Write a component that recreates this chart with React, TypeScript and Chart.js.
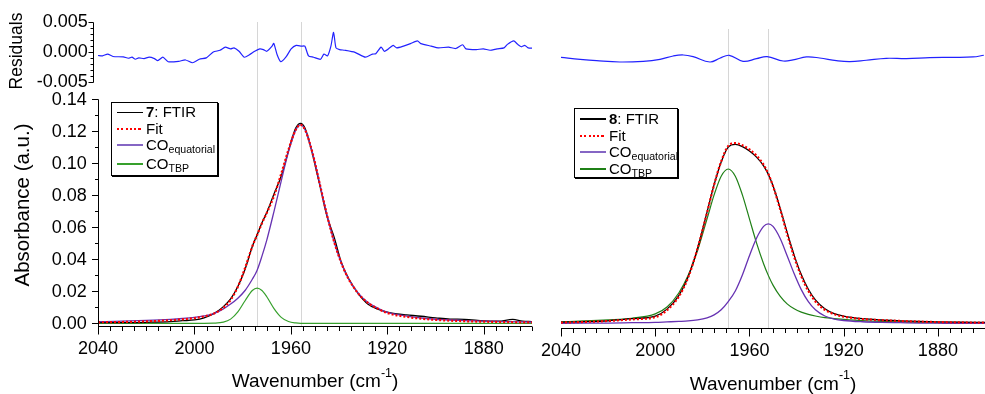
import React, { useEffect, useRef } from 'react';
import { Chart, registerables } from 'chart.js';

Chart.register(...registerables);

const FONT = "'Liberation Sans', Arial, Helvetica, sans-serif";
Chart.defaults.font.family = FONT;

// Shared axes (wavenumber in cm-1, plotted high to low)
const X_MIN = 1860;
const X_MAX = 2040;
const X_LABELS = [2040, 2000, 1960, 1920, 1880];
const ABS_LABELS = [0, 0.02, 0.04, 0.06, 0.08, 0.1, 0.12, 0.14];
const RES_LABELS = [-0.005, 0, 0.005];

// ---- Compound 7 ----
const WN_7 = [2040, 2030, 2020, 2010, 2005, 2000, 1996, 1992, 1988, 1985, 1982, 1979, 1976, 1974, 1972, 1970, 1967, 1964, 1961, 1958, 1956, 1954, 1951, 1948, 1945, 1942, 1939, 1936, 1932, 1928, 1924, 1920, 1912, 1904, 1896, 1888, 1880, 1870, 1860];
const FIT_7 = [0.0006, 0.0008, 0.0012, 0.0019, 0.0025, 0.0032, 0.0043, 0.006, 0.0097, 0.0146, 0.0228, 0.0346, 0.048, 0.0552, 0.0625, 0.069, 0.0795, 0.0935, 0.1085, 0.1209, 0.124, 0.1205, 0.1063, 0.087, 0.0675, 0.0506, 0.0373, 0.0275, 0.0185, 0.0127, 0.0092, 0.0064, 0.004, 0.0026, 0.0018, 0.0013, 0.001, 0.0007, 0.0005];
const CO_EQ_7 = [0.001, 0.0013, 0.0018, 0.0025, 0.003, 0.0037, 0.0046, 0.006, 0.009, 0.012, 0.0157, 0.0205, 0.0275, 0.0332, 0.042, 0.052, 0.07, 0.089, 0.1072, 0.1207, 0.124, 0.1205, 0.1063, 0.087, 0.0675, 0.0506, 0.0373, 0.0275, 0.0187, 0.013, 0.0095, 0.0068, 0.0045, 0.003, 0.0022, 0.0017, 0.0013, 0.001, 0.0008];
const CO_TBP_7 = [0, 0, 0, 0, 0, 0, 0, 0.0001, 0.0007, 0.0026, 0.0071, 0.0141, 0.0205, 0.022, 0.0205, 0.0166, 0.0092, 0.0037, 0.0011, 0.0002, 0, 0, 0, 0, 0, 0, 0, 0, 0, 0, 0, 0, 0, 0, 0, 0, 0, 0, 0];
const FTIR_WN_7 = [2040, 2030, 2020, 2010, 2005, 2000, 1996, 1992, 1988, 1985, 1982, 1979, 1976, 1974, 1972, 1970, 1967, 1964, 1961, 1958, 1956, 1954, 1951, 1948, 1945, 1942, 1939, 1936, 1932, 1928, 1924, 1920, 1916, 1912, 1906, 1900, 1894, 1888, 1880, 1874, 1868, 1864, 1860];
const FTIR_7 = [0.0004, 0.0004, 0.0006, 0.001, 0.0016, 0.0021, 0.0034, 0.006, 0.0104, 0.0152, 0.023, 0.0338, 0.048, 0.0553, 0.0629, 0.0692, 0.0808, 0.092, 0.1078, 0.122, 0.125, 0.1215, 0.1055, 0.0862, 0.0668, 0.0535, 0.0377, 0.0278, 0.0184, 0.0119, 0.0089, 0.007, 0.0058, 0.0052, 0.0044, 0.0034, 0.0026, 0.0025, 0.0015, 0.0013, 0.0024, 0.0014, 0.001];
const RES_WN_7 = [2040.0, 2038.1, 2036.0, 2033.8, 2029.5, 2027.4, 2025.9, 2024.5, 2023.1, 2020.9, 2018.8, 2016.6, 2015.2, 2013.1, 2010.9, 2006.6, 2003.7, 2000.8, 1998.0, 1995.1, 1992.2, 1989.4, 1987.2, 1985.0, 1983.6, 1981.5, 1979.3, 1977.2, 1975.0, 1972.9, 1971.4, 1970.0, 1967.8, 1967.1, 1965.7, 1964.2, 1962.1, 1959.9, 1957.8, 1955.6, 1954.2, 1952.7, 1950.6, 1947.7, 1946.3, 1944.8, 1943.4, 1942.3, 1941.3, 1939.8, 1937.7, 1933.4, 1929.1, 1926.2, 1924.8, 1922.6, 1921.2, 1919.0, 1917.6, 1916.1, 1913.3, 1910.4, 1907.5, 1906.1, 1901.8, 1898.9, 1894.6, 1891.7, 1888.8, 1887.4, 1883.1, 1880.2, 1877.4, 1874.5, 1871.6, 1870.2, 1867.6, 1865.9, 1864.4, 1863.0, 1861.6, 1859.4];
const RES_7 = [-0.00058, -0.00064, -0.00035, -0.00075, -0.00081, -0.00104, -0.00087, -0.00121, -0.00098, -0.0011, -0.00087, -0.0011, -0.00145, -0.00087, -0.00162, -0.00156, -0.00133, -0.00179, -0.00121, -0.00098, 0.0, 0.00029, 0.00081, 0.00052, 0.00069, 0.00012, -0.00087, -0.00046, 0.00012, 0.00052, 0.0004, 0.00012, 0.00098, 0.00145, -0.00046, -0.00162, -0.00087, 0.00052, 0.0011, 0.00098, 0.00098, -0.00064, -0.00087, -0.00121, -0.00035, -0.00064, 0.00098, 0.00329, 0.00069, 0.0004, 0.00029, -0.00006, -0.00087, -0.00035, -0.00029, 0.00081, 0.00012, 0.00069, 0.0011, 0.00069, 0.00098, 0.00139, 0.00185, 0.00139, 0.00098, 0.00069, 0.00081, 0.00058, 0.00121, 0.00052, 0.0004, 0.00052, 0.00029, 0.00052, 0.00069, 0.00127, 0.00185, 0.00127, 0.00087, 0.0011, 0.00069, 0.00064];
const BANDS_7 = [1974, 1956];

// ---- Compound 8 ----
const WN_8 = [2040, 2030, 2020, 2010, 2000, 1995, 1990, 1986, 1982, 1978, 1975, 1972, 1969, 1966, 1963, 1960, 1957, 1954, 1952, 1950, 1947, 1944, 1941, 1938, 1935, 1932, 1928, 1924, 1920, 1912, 1904, 1896, 1888, 1880, 1870, 1860];
const FIT_8 = [0.0018, 0.0022, 0.0028, 0.0038, 0.0052, 0.0095, 0.018, 0.03, 0.0483, 0.0705, 0.088, 0.1025, 0.1122, 0.114, 0.1126, 0.11, 0.1061, 0.1005, 0.0948, 0.0871, 0.0728, 0.0571, 0.0427, 0.0307, 0.0215, 0.015, 0.0098, 0.007, 0.0055, 0.004, 0.0033, 0.0028, 0.0024, 0.0021, 0.0019, 0.0017];
const CO_EQ_8 = [0.0013, 0.0014, 0.0015, 0.0017, 0.0019, 0.0022, 0.0025, 0.0028, 0.0035, 0.0048, 0.0066, 0.0098, 0.0149, 0.0215, 0.0315, 0.0436, 0.0545, 0.0619, 0.0635, 0.0619, 0.0545, 0.0436, 0.0323, 0.0224, 0.0149, 0.0098, 0.0059, 0.004, 0.0031, 0.0023, 0.0019, 0.0017, 0.0015, 0.0014, 0.0013, 0.0013];
const CO_TBP_8 = [0.0023, 0.0028, 0.0035, 0.0045, 0.0072, 0.0115, 0.0203, 0.0313, 0.047, 0.0666, 0.0816, 0.0933, 0.0978, 0.0933, 0.0816, 0.0666, 0.0516, 0.0386, 0.0313, 0.0252, 0.0183, 0.0135, 0.0104, 0.0083, 0.0069, 0.0059, 0.0049, 0.0043, 0.0038, 0.003, 0.0025, 0.0022, 0.0019, 0.0017, 0.0016, 0.0014];
const FTIR_8 = [0.002, 0.0023, 0.0029, 0.0042, 0.0058, 0.0102, 0.0186, 0.0305, 0.0483, 0.0708, 0.088, 0.1022, 0.1115, 0.1132, 0.1118, 0.109, 0.1052, 0.0998, 0.0945, 0.0873, 0.0735, 0.0582, 0.0438, 0.0318, 0.0226, 0.016, 0.0104, 0.0074, 0.0058, 0.0042, 0.0034, 0.0029, 0.0025, 0.0022, 0.002, 0.0019];
const RES_WN_8 = [2040.0, 2031.9, 2024.9, 2015.0, 2005.1, 1998.0, 1992.4, 1988.1, 1983.9, 1976.8, 1972.6, 1968.6, 1962.7, 1957.0, 1952.5, 1945.7, 1941.5, 1935.8, 1930.2, 1923.1, 1917.4, 1910.4, 1901.9, 1893.4, 1883.5, 1875.0, 1865.1, 1860.5];
const RES_8 = [-0.00084, -0.00117, -0.0014, -0.00162, -0.0015, -0.00117, -0.00062, -0.00045, -0.00073, -0.00162, -0.001, -0.0005, -0.0015, -0.00107, -0.00073, -0.00145, -0.00128, -0.00078, -0.00095, -0.0014, -0.00157, -0.00133, -0.001, -0.00107, -0.0009, -0.00084, -0.00078, -0.0005];
const BANDS_8 = [1969, 1952];

const RED = '#ff0000';
const PURPLE = '#6632b2';
const BLUE = '#2222ff';

type Geometry = {
  canvasLeft: number;
  canvasWidth: number;
  padLeft: number;
  padTop: number;
  padRight: number;
  axisHeight: number;
  absRange: [number, number];
  resRange: [number, number];
  showY: boolean;
};

type Series = {
  wn: number[];
  fit: number[];
  coEq: number[];
  coTbp: number[];
  ftirWn: number[];
  ftir: number[];
  resWn: number[];
  res: number[];
  bands: number[];
  green: string;
  resTension: number;
};

const pts = (xs: number[], ys: number[]) => xs.map((x, i) => ({ x, y: ys[i] }));

// Axis lines with major/minor tick marks and y labels, plus the grey band-centre guides.
function makeFramePlugin(bands: number[], showY: boolean) {
  const seg = (ctx: CanvasRenderingContext2D, x1: number, y1: number, x2: number, y2: number) => {
    ctx.beginPath();
    ctx.moveTo(x1, y1);
    ctx.lineTo(x2, y2);
    ctx.stroke();
  };
  return {
    id: 'spectrumFrame',
    beforeDatasetsDraw(chart: any) {
      const { ctx, chartArea: a, scales } = chart;
      ctx.save();
      ctx.strokeStyle = '#d6d6d6';
      ctx.lineWidth = 1;
      for (const b of bands) {
        const px = Math.round(scales.x.getPixelForValue(b)) + 0.5;
        seg(ctx, px, a.top, px, a.bottom);
      }
      ctx.restore();
    },
    afterDraw(chart: any) {
      const { ctx, chartArea: a, scales } = chart;
      ctx.save();
      ctx.strokeStyle = '#000';
      ctx.fillStyle = '#000';
      ctx.lineWidth = 1;
      const yb = Math.round(a.bottom) + 0.5;
      const xl = Math.round(a.left) + 0.5;
      seg(ctx, xl - 0.5, yb, a.right, yb);
      for (let v = X_MIN; v <= X_MAX; v += 5) {
        const px = Math.round(scales.x.getPixelForValue(v)) + 0.5;
        const major = X_LABELS.includes(v) || v === X_MAX;
        seg(ctx, px, yb, px, yb + (major ? 8 : 4.5));
      }
      if (showY) {
        ctx.font = `18px ${FONT}`;
        ctx.textAlign = 'right';
        ctx.textBaseline = 'middle';
        const ya = scales.yAbs;
        const topA = Math.round(ya.getPixelForValue(0.14)) + 0.5;
        seg(ctx, xl, topA, xl, yb);
        for (let k = 0; k <= 14; k++) {
          const py = Math.round(ya.getPixelForValue(k / 100)) + 0.5;
          seg(ctx, xl, py, xl - (k % 2 === 0 ? 6.5 : 3.5), py);
        }
        for (const v of ABS_LABELS) {
          ctx.fillText(v.toFixed(2), xl - 11.8, ya.getPixelForValue(v) + 0.5);
        }
        const yr = scales.yRes;
        const xr = xl - 5;
        const t = Math.round(yr.getPixelForValue(0.005)) + 0.5;
        const b = Math.round(yr.getPixelForValue(-0.005)) + 0.5;
        seg(ctx, xr, t, xr, b);
        for (let k = -5; k <= 5; k++) {
          const py = Math.round(yr.getPixelForValue(k / 1000)) + 0.5;
          seg(ctx, xr, py, xr - (k % 5 === 0 ? 5 : 3), py);
        }
        for (const v of RES_LABELS) {
          ctx.fillText(v.toFixed(3), xr - 5.8, yr.getPixelForValue(v) + 0.5);
        }
      }
      ctx.restore();
    },
  };
}

function Panel({ geo, s }: { geo: Geometry; s: Series }) {
  const ref = useRef<HTMLCanvasElement>(null);
  useEffect(() => {
    const canvas = ref.current;
    if (!canvas) return;
    const line = { pointRadius: 0, fill: false, cubicInterpolationMode: 'monotone' as const };
    const tickFont = { family: FONT, size: 18 };
    const chart = new Chart(canvas, {
      type: 'line',
      data: {
        datasets: [
          { ...line, label: 'Fit', data: pts(s.wn, s.fit), yAxisID: 'yAbs', borderColor: RED, borderWidth: 2.2, borderDash: [2, 2], order: 1 },
          { ...line, label: 'CO equatorial', data: pts(s.wn, s.coEq), yAxisID: 'yAbs', borderColor: PURPLE, borderWidth: 1.3, order: 2 },
          { ...line, label: 'FTIR', data: pts(s.ftirWn, s.ftir), yAxisID: 'yAbs', borderColor: '#000', borderWidth: 1.3, order: 3 },
          { ...line, label: 'CO TBP', data: pts(s.wn, s.coTbp), yAxisID: 'yAbs', borderColor: s.green, borderWidth: 1.2, order: 4 },
          { pointRadius: 0, fill: false, tension: s.resTension, label: 'Residuals', data: pts(s.resWn, s.res), yAxisID: 'yRes', borderColor: BLUE, borderWidth: 1.2, order: 5 },
        ],
      },
      options: {
        animation: false,
        responsive: false,
        devicePixelRatio: 1,
        events: [],
        layout: { padding: { left: geo.padLeft, top: geo.padTop, right: geo.padRight, bottom: 0 } },
        plugins: { legend: { display: false }, tooltip: { enabled: false }, title: { display: false } },
        scales: {
          x: {
            type: 'linear',
            reverse: true,
            min: X_MIN,
            max: X_MAX,
            bounds: 'data',
            afterBuildTicks: (sc: any) => { sc.ticks = X_LABELS.map((v) => ({ value: v })); },
            afterFit: (sc: any) => { sc.height = geo.axisHeight; },
            grid: { display: false, drawTicks: true, tickLength: 8 },
            border: { display: false },
            ticks: { autoSkip: false, maxRotation: 0, padding: 4, color: '#000', font: tickFont, callback: (v: any) => String(v) },
          },
          yAbs: {
            type: 'linear',
            position: 'left',
            display: false,
            min: geo.absRange[0],
            max: geo.absRange[1],
          },
          yRes: {
            type: 'linear',
            position: 'left',
            display: false,
            min: geo.resRange[0],
            max: geo.resRange[1],
          },
        },
      } as any,
      plugins: [makeFramePlugin(s.bands, geo.showY)],
    });
    return () => chart.destroy();
  }, []);
  return (
    <canvas
      ref={ref}
      width={geo.canvasWidth}
      height={394}
      style={{ position: 'absolute', left: geo.canvasLeft, top: 0, width: geo.canvasWidth, height: 394 }}
    />
  );
}

const GEO_7: Geometry = {
  canvasLeft: 0, canvasWidth: 540, padLeft: 98, padTop: 22, padRight: 8, axisHeight: 68,
  absRange: [-0.0017, 0.1883], resRange: [-0.04567, 0.005], showY: true,
};
const GEO_8: Geometry = {
  canvasLeft: 520, canvasWidth: 465, padLeft: 41, padTop: 29, padRight: 0, axisHeight: 66,
  absRange: [-0.0016, 0.1853], resRange: [-0.04595, 0.00388], showY: false,
};

const SERIES_7: Series = {
  wn: WN_7, fit: FIT_7, coEq: CO_EQ_7, coTbp: CO_TBP_7, ftirWn: FTIR_WN_7, ftir: FTIR_7,
  resWn: RES_WN_7, res: RES_7, bands: BANDS_7, green: '#36a02c', resTension: 0.2,
};
const SERIES_8: Series = {
  wn: WN_8, fit: FIT_8, coEq: CO_EQ_8, coTbp: CO_TBP_8, ftirWn: WN_8, ftir: FTIR_8,
  resWn: RES_WN_8, res: RES_8, bands: BANDS_8, green: '#1f8016', resTension: 0.4,
};

function RotatedLabel({ cx, cy, size, text }: { cx: number; cy: number; size: number; text: string }) {
  return (
    <div
      style={{
        position: 'absolute', left: cx, top: cy, fontSize: size, lineHeight: `${size}px`,
        whiteSpace: 'nowrap', transform: 'translate(-50%, -50%) rotate(-90deg)',
      }}
    >
      {text}
    </div>
  );
}

function XTitle({ cx, baseline }: { cx: number; baseline: number }) {
  const size = 19;
  return (
    <div
      style={{
        position: 'absolute', left: cx, top: baseline - 0.8465 * size, fontSize: size,
        lineHeight: `${size}px`, whiteSpace: 'nowrap', transform: 'translateX(-50%)',
      }}
    >
      Wavenumber (cm<span style={{ fontSize: 12.5, position: 'relative', top: -10.5 }}>-1</span>)
    </div>
  );
}

type LegendRow = { y: number; color: string; thick: number; dotted?: boolean; label: React.ReactNode };

function Legend({ left, top, width, height, rows }: { left: number; top: number; width: number; height: number; rows: LegendRow[] }) {
  return (
    <div
      style={{
        position: 'absolute', left, top, width, height, boxSizing: 'border-box',
        border: '1px solid #000', boxShadow: '1px 1px 0 #000', background: '#fff',
      }}
    >
      {rows.map((r, i) => (
        <React.Fragment key={i}>
          <div
            style={{
              position: 'absolute', left: 4.5, top: r.y - 1 - r.thick / 2, width: 26, height: r.thick,
              background: r.dotted
                ? `repeating-linear-gradient(90deg, ${r.color} 0 2px, transparent 2px 4.3px)`
                : r.color,
            }}
          />
          <div
            style={{
              position: 'absolute', left: 34, top: r.y - 9, height: 16, lineHeight: '16px',
              fontSize: 15, whiteSpace: 'nowrap',
            }}
          >
            {r.label}
          </div>
        </React.Fragment>
      ))}
    </div>
  );
}

const sub = (t: string) => (
  <span style={{ fontSize: 10.6, position: 'relative', top: 3 }}>{t}</span>
);

function legendRows(id: string, green: string, ys: number[]): LegendRow[] {
  return [
    { y: ys[0], color: '#000', thick: 1.3, label: <><b>{id}</b>: FTIR</> },
    { y: ys[1], color: RED, thick: 2, dotted: true, label: 'Fit' },
    { y: ys[2], color: '#8566c4', thick: 2, label: <>CO{sub('equatorial')}</> },
    { y: ys[3], color: green, thick: 1.4, label: <>CO{sub('TBP')}</> },
  ];
}

export default function App() {
  return (
    <div
      style={{
        position: 'absolute', left: 0, top: 0, width: 985, height: 394, overflow: 'hidden',
        background: '#fff', color: '#000', fontFamily: FONT,
      }}
    >
      <Panel geo={GEO_7} s={SERIES_7} />
      <Panel geo={GEO_8} s={SERIES_8} />
      <RotatedLabel cx={17.3} cy={51} size={17.5} text="Residuals" />
      <RotatedLabel cx={22} cy={205} size={20.5} text="Absorbance (a.u.)" />
      <XTitle cx={315} baseline={387.3} />
      <XTitle cx={773} baseline={389.8} />
      <Legend left={111} top={102} width={107} height={74} rows={legendRows('7', '#36a02c', [10.3, 26.5, 43, 62])} />
      <Legend left={574} top={108} width={104} height={70} rows={legendRows('8', '#1f8016', [11, 27.5, 43.7, 61])} />
    </div>
  );
}
